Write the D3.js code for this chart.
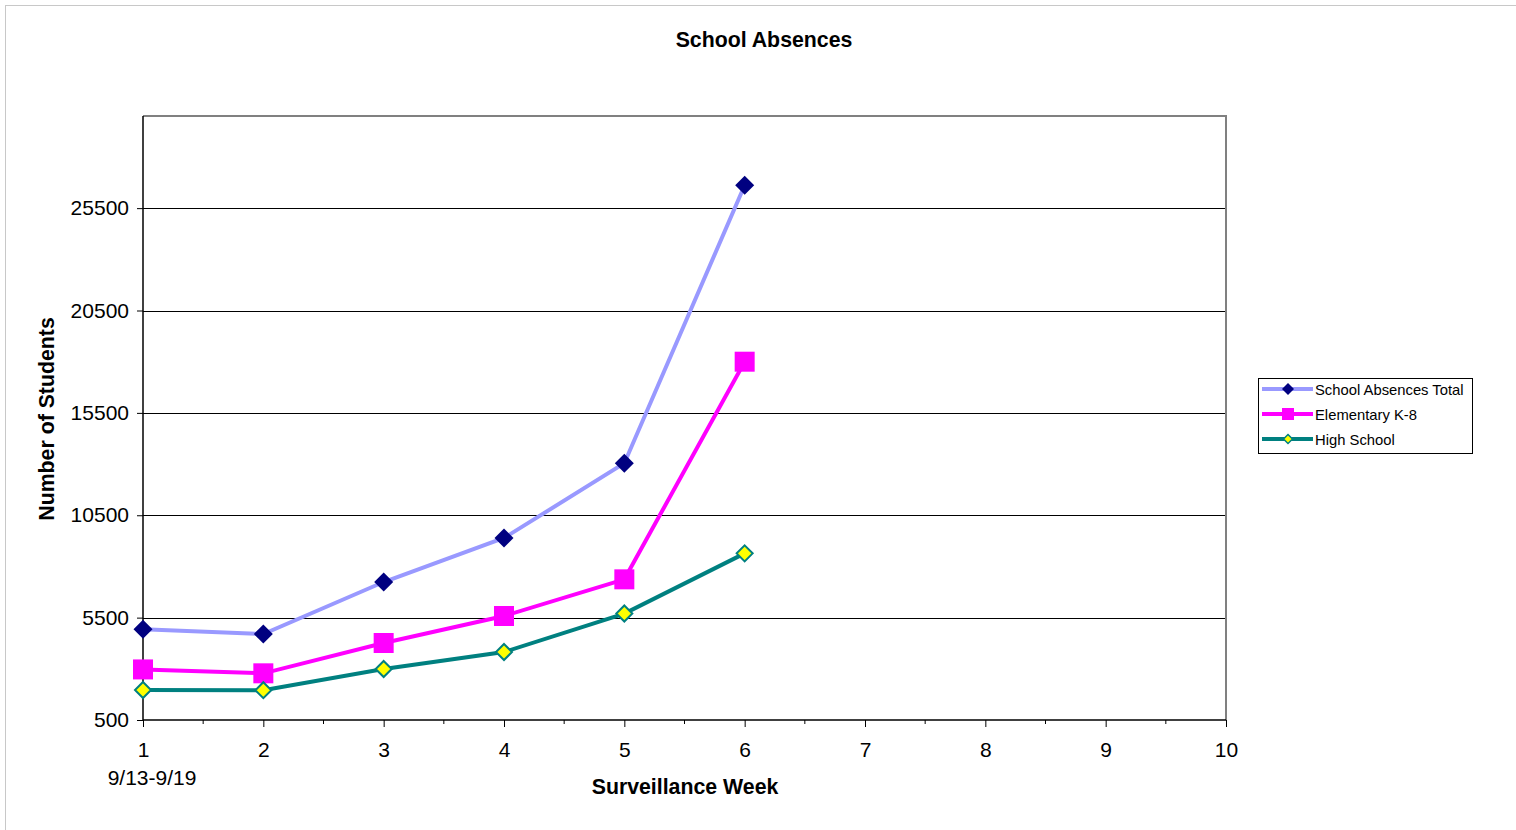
<!DOCTYPE html>
<html>
<head>
<meta charset="utf-8">
<script src="https://cdn.jsdelivr.net/npm/d3@7"></script>
<style>
  body { margin: 0; background: #fff; }
  text { font-family: "Liberation Sans", Arial, sans-serif; }
</style>
</head>
<body>
<svg width="1516" height="830"></svg>
<script>
// data
var weeks = [1, 2, 3, 4, 5, 6];
var totalAbs = [4930, 4700, 7240, 9390, 13040, 26620];
var elementary = [2970, 2780, 4260, 5580, 7370, 18000];
var highSchool = [1965, 1955, 2990, 3820, 5700, 8640];
var yTicks = [500, 5500, 10500, 15500, 20500, 25500];
var xTicks = [1, 2, 3, 4, 5, 6, 7, 8, 9, 10];

var svg = d3.select("svg");

// outer chart border
svg.append("rect")
    .attr("x", 5.5).attr("y", 5.5)
    .attr("width", 1530).attr("height", 840)
    .attr("fill", "none")
    .attr("stroke", "#c8c8c8")
    .attr("stroke-width", 1);

var xScale = d3.scaleLinear().domain([1, 10]).range([143, 1226]);
var yScale = d3.scaleLinear().domain([500, 30000]).range([720, 116]);

// gridlines
svg.selectAll(".grid")
    .data(yTicks.slice(1))
    .enter()
    .append("line")
    .attr("x1", xScale(1)).attr("x2", xScale(10))
    .attr("y1", function (d) { return Math.round(yScale(d)) + 0.5; })
    .attr("y2", function (d) { return Math.round(yScale(d)) + 0.5; })
    .attr("stroke", "#000")
    .attr("stroke-width", 1);

// plot frame top/right (gray)
svg.append("path")
    .attr("d", "M" + xScale(1) + "," + yScale(30000) + "H" + xScale(10) + "V" + yScale(500))
    .attr("fill", "none")
    .attr("stroke", "#808080")
    .attr("stroke-width", 2);

// y axis
var yAxis = d3.axisLeft(yScale).tickValues(yTicks).tickSize(6).tickPadding(8).tickFormat(d3.format("d"));
var gy = svg.append("g").attr("transform", "translate(" + xScale(1) + ",0)").call(yAxis);
gy.select(".domain").attr("stroke", "#000").attr("stroke-width", 1.5).attr("d", "M0," + yScale(30000) + "V" + yScale(500));
gy.selectAll("text").style("font-size", "21px").attr("fill", "#000");

// x axis minor ticks at halves
var minor = d3.range(1.5, 10, 1);
svg.selectAll(".minor")
    .data(minor)
    .enter()
    .append("line")
    .attr("x1", function (d) { return xScale(d); })
    .attr("x2", function (d) { return xScale(d); })
    .attr("y1", yScale(500)).attr("y2", yScale(500) + 4)
    .attr("stroke", "#000");

var xAxis = d3.axisBottom(xScale).tickValues(xTicks).tickSize(7).tickPadding(15).tickFormat(d3.format("d"));
var gx = svg.append("g").attr("transform", "translate(0," + yScale(500) + ")").call(xAxis);
gx.select(".domain").attr("stroke", "#000").attr("stroke-width", 1.5).attr("d", "M" + xScale(1) + ",0H" + xScale(10));
gx.selectAll("text").style("font-size", "21px").attr("fill", "#000");

svg.append("text")
    .attr("x", xScale(1) + 9).attr("y", 785)
    .attr("text-anchor", "middle")
    .style("font-size", "21px")
    .text("9/13-9/19");

// titles
svg.append("text")
    .attr("x", 764).attr("y", 47)
    .attr("text-anchor", "middle")
    .style("font-size", "21.3px").style("font-weight", "bold")
    .text("School Absences");

svg.append("text")
    .attr("x", 685).attr("y", 794)
    .attr("text-anchor", "middle")
    .style("font-size", "21.3px").style("font-weight", "bold")
    .text("Surveillance Week");

svg.append("text")
    .attr("transform", "translate(54,419) rotate(-90)")
    .attr("text-anchor", "middle")
    .style("font-size", "21.3px").style("font-weight", "bold")
    .text("Number of Students");

// series
var series = [
    { name: "School Absences Total", values: totalAbs, line: "#9999ff", shape: "diamond", fill: "#000080", stroke: "none", size: 19 },
    { name: "Elementary K-8", values: elementary, line: "#ff00ff", shape: "square", fill: "#ff00ff", stroke: "none", size: 20 },
    { name: "High School", values: highSchool, line: "#008080", shape: "diamond", fill: "#ffff00", stroke: "#008080", size: 16 }
];

function markerPath(shape, size) {
    var h = size / 2;
    if (shape === "square") return "M" + (-h) + "," + (-h) + "h" + size + "v" + size + "h" + (-size) + "Z";
    return "M0," + (-h) + "L" + h + ",0L0," + h + "L" + (-h) + ",0Z";
}

var line = d3.line()
    .x(function (d) { return xScale(d[0]); })
    .y(function (d) { return yScale(d[1]); });

series.forEach(function (s) {
    var pts = weeks.map(function (w, i) { return [w, s.values[i]]; });
    svg.append("path")
        .datum(pts)
        .attr("d", line)
        .attr("fill", "none")
        .attr("stroke", s.line)
        .attr("stroke-width", 4);
    svg.selectAll(null)
        .data(pts)
        .enter()
        .append("path")
        .attr("transform", function (d) { return "translate(" + xScale(d[0]) + "," + yScale(d[1]) + ")"; })
        .attr("d", markerPath(s.shape, s.size))
        .attr("fill", s.fill)
        .attr("stroke", s.stroke)
        .attr("stroke-width", 2);
});

// legend
var lg = svg.append("g").attr("transform", "translate(1258,378)");
lg.append("rect")
    .attr("x", 0.5).attr("y", 0.5)
    .attr("width", 214).attr("height", 75)
    .attr("fill", "#fff")
    .attr("stroke", "#000");

var items = lg.selectAll(".item")
    .data(series)
    .enter()
    .append("g")
    .attr("transform", function (d, i) { return "translate(0," + (11 + i * 25) + ")"; });

items.append("line")
    .attr("x1", 4).attr("x2", 55)
    .attr("stroke", function (d) { return d.line; })
    .attr("stroke-width", 4);
items.append("path")
    .attr("transform", "translate(30,0)")
    .attr("d", function (d) { return markerPath(d.shape, d.shape === "square" ? 12 : (d.stroke === "none" ? 12 : 9)); })
    .attr("fill", function (d) { return d.fill; })
    .attr("stroke", function (d) { return d.stroke; })
    .attr("stroke-width", 1.5);
items.append("text")
    .attr("x", 57).attr("y", 5.5)
    .style("font-size", "14.8px")
    .text(function (d) { return d.name; });
</script>
</body>
</html>
